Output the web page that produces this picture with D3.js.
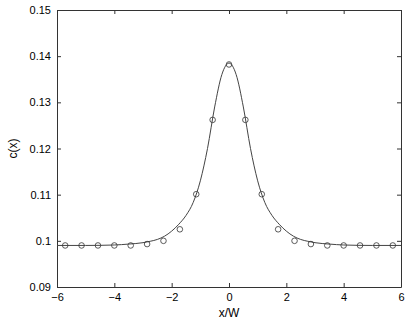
<!DOCTYPE html>
<html>
<head>
<meta charset="utf-8">
<script src="https://cdn.jsdelivr.net/npm/d3@7"></script>
<style>
  body { margin: 0; background: #fff; }
  text { font-family: "Liberation Sans", Arial, sans-serif; fill: #000; }
</style>
</head>
<body>
<div class="root"></div>
<script>
var width = 409;
var height = 323;

// measured points (open circles)
var pointX = [-5.714, -5.143, -4.571, -4.0, -3.429, -2.857, -2.286, -1.714, -1.143, -0.571, 0,
              0.571, 1.143, 1.714, 2.286, 2.857, 3.429, 4.0, 4.571, 5.143, 5.714];
var pointY = [0.0990, 0.0990, 0.0990, 0.0990, 0.0990, 0.0993, 0.1000, 0.1025, 0.1101, 0.1262, 0.1382,
              0.1262, 0.1101, 0.1025, 0.1000, 0.0993, 0.0990, 0.0990, 0.0990, 0.0990, 0.0990];

// fitted curve (solid line)
var curveX = [-6, -5, -4, -3.5, -3, -2.75, -2.5, -2.25, -2, -1.75, -1.5, -1.25, -1, -0.75, -0.5, -0.25, 0,
              0.25, 0.5, 0.75, 1, 1.25, 1.5, 1.75, 2, 2.25, 2.5, 2.75, 3, 3.5, 4, 5, 6];
var curveY = [0.0990, 0.0990, 0.0991, 0.0993, 0.0996, 0.0999, 0.1003, 0.1010, 0.1021, 0.1036, 0.1055, 0.1083, 0.1130, 0.1200, 0.1290, 0.1360, 0.1385,
              0.1360, 0.1290, 0.1200, 0.1130, 0.1083, 0.1055, 0.1036, 0.1021, 0.1010, 0.1003, 0.0999, 0.0996, 0.0993, 0.0991, 0.0990, 0.0990];

var xTicks = [-6, -4, -2, 0, 2, 4, 6];
var yTicks = [0.09, 0.1, 0.11, 0.12, 0.13, 0.14, 0.15];

var margin = {left: 57, right: 8, top: 10, bottom: 36};

var svg = d3.select(".root").append("svg")
  .attr("width", width)
  .attr("height", height);

var x = d3.scaleLinear().domain([-6, 6]).range([margin.left, width - margin.right]);
var y = d3.scaleLinear().domain([0.09, 0.15]).range([height - margin.bottom, margin.top]);

var fmtY = function (d) { return d3.format("")(+d.toFixed(2)); };
var fmtX = function (d) { return d < 0 ? "\u2212" + Math.abs(d) : "" + d; };

function styleAxis(g) {
  g.selectAll("path").attr("stroke", "#333").attr("stroke-width", 1);
  g.selectAll("line").attr("stroke", "#333").attr("stroke-width", 1);
  g.selectAll("text").attr("font-size", 11).attr("fill", "#000")
    .style("font-family", "'Liberation Sans', Arial, sans-serif");
}

// bottom / top
svg.append("g")
  .attr("transform", "translate(0," + y(0.09) + ")")
  .call(d3.axisBottom(x).tickValues(xTicks).tickSize(-4).tickPadding(6).tickFormat(fmtX).tickSizeOuter(0))
  .call(styleAxis);
svg.append("g")
  .attr("transform", "translate(0," + y(0.15) + ")")
  .call(d3.axisTop(x).tickValues(xTicks).tickSize(-4).tickFormat("").tickSizeOuter(0))
  .call(styleAxis);
// left / right
svg.append("g")
  .attr("transform", "translate(" + x(-6) + ",0)")
  .call(d3.axisLeft(y).tickValues(yTicks).tickSize(-4).tickPadding(6).tickFormat(fmtY).tickSizeOuter(0))
  .call(styleAxis);
svg.append("g")
  .attr("transform", "translate(" + x(6) + ",0)")
  .call(d3.axisRight(y).tickValues(yTicks).tickSize(-4).tickFormat("").tickSizeOuter(0))
  .call(styleAxis);

// curve
var line = d3.line()
  .x(function (d, i) { return x(curveX[i]); })
  .y(function (d) { return y(d); })
  .curve(d3.curveMonotoneX);

svg.append("path")
  .datum(curveY)
  .attr("fill", "none")
  .attr("stroke", "#444")
  .attr("stroke-width", 1)
  .attr("d", line);

// points
svg.append("g")
  .selectAll("circle")
  .data(pointY)
  .enter().append("circle")
  .attr("cx", function (d, i) { return x(pointX[i]); })
  .attr("cy", function (d) { return y(d); })
  .attr("r", 2.8)
  .attr("fill", "none")
  .attr("stroke", "#333")
  .attr("stroke-width", 0.8);

// axis labels
svg.append("text")
  .attr("x", x(0))
  .attr("y", 317)
  .attr("text-anchor", "middle")
  .attr("font-size", 12)
  .text("x/W");

svg.append("text")
  .attr("transform", "translate(17," + y(0.12) + ") rotate(-90)")
  .attr("text-anchor", "middle")
  .attr("font-size", 12)
  .text("c(x)");
</script>
</body>
</html>
